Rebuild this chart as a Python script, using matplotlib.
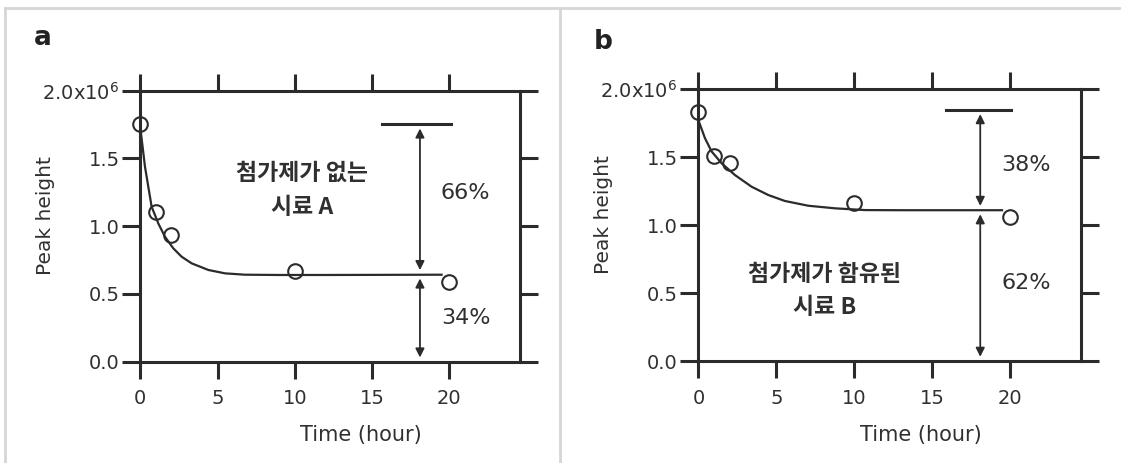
import matplotlib
matplotlib.use('Agg')
import matplotlib.pyplot as plt
from matplotlib.lines import Line2D

plt.rcParams['font.family'] = ['DejaVu Sans', 'Noto Sans CJK KR']

INK = '#2b2b2b'
TXT = '#303030'
KR = ['Noto Sans CJK KR', 'DejaVu Sans']

# measured points (peak height, x10^6)
time_pts = [0, 1, 2, 10, 20]
peak_a = [1.752, 1.107, 0.935, 0.672, 0.590]
peak_b = [1.830, 1.509, 1.455, 1.161, 1.058]

# fitted curves
curve_t_a = [0.04, 0.30, 0.73, 1.16, 1.59, 2.13, 2.67, 3.32, 4.40, 5.48, 6.77, 9.0, 12.0, 16.0, 19.5]
curve_a = [1.686, 1.439, 1.144, 1.021, 0.923, 0.837, 0.775, 0.726, 0.677, 0.652, 0.642, 0.640, 0.640, 0.641, 0.642]
curve_t_b = [0.03, 0.42, 0.85, 1.49, 2.34, 3.41, 4.48, 5.55, 7.05, 8.76, 10.7, 13.0, 16.0, 19.5]
curve_b = [1.761, 1.639, 1.541, 1.455, 1.369, 1.283, 1.222, 1.178, 1.143, 1.124, 1.111, 1.110, 1.110, 1.110]

# plateau / start levels and the percentages
plateau_a, start_a = 0.645, 1.752
plateau_b, start_b = 1.111, 1.848
pct_a = ['66%', '34%']
pct_b = ['38%', '62%']
note_a = '첨가제가 없는\n시료 A'
note_b = '첨가제가 함유된\n시료 B'

xticks = [0, 5, 10, 15, 20]
yticks = [0, 0.5, 1.0, 1.5, 2.0]
ylabels = ['0.0', '0.5', '1.0', '1.5', r'2.0x10$^{6}$']

fig = plt.figure(figsize=(11.21, 4.63), dpi=100)

# light grey frame of the two panels
W, H = 1121, 463
for xs, ys in [([5, W], [8, 8]), ([5, 5], [8, H]), ([560, 560], [8, H])]:
    fig.add_artist(Line2D([x / W for x in xs], [1 - y / H for y in ys],
                          transform=fig.transFigure, color='#d6d6d6', lw=2))


def panel(rect, t_c, y_c, y_p, plateau, start, bar_x, pcts, pct_y, note, note_xy):
    ax = fig.add_axes(rect)
    ax.set_xlim(0, 24.55)
    ax.set_ylim(0, 2.0)
    for s in ax.spines.values():
        s.set_linewidth(2.2)
        s.set_color(INK)
    ax.set_xticks(xticks)
    ax.set_yticks(yticks)
    ax.set_yticklabels(ylabels)
    ax.tick_params(axis='x', direction='out', length=12, width=2.2, color=INK,
                   top=True, labelsize=14, labelcolor=TXT, pad=8)
    ax.tick_params(axis='y', direction='out', length=13, width=2.2, color=INK,
                   right=True, labelsize=14, labelcolor=TXT, pad=2)

    ax.plot(t_c, y_c, color=INK, lw=1.6, clip_on=False)
    ax.plot(time_pts, y_p, 'o', mfc='none', mec=INK, ms=10.5, mew=1.5, clip_on=False)

    # bar and double arrows
    ax.plot(bar_x, [start, start], color=INK, lw=2.2)
    ap = dict(arrowstyle='<|-|>', lw=1.3, color=INK, mutation_scale=13,
              shrinkA=3, shrinkB=3)
    ax.annotate('', xy=(18.1, plateau), xytext=(18.1, start), arrowprops=ap)
    ax.annotate('', xy=(18.1, 0.0), xytext=(18.1, plateau), arrowprops=ap)
    ax.text(21.05, pct_y[0], pcts[0], ha='center', va='center', fontsize=16, color=TXT)
    ax.text(21.05, pct_y[1], pcts[1], ha='center', va='center', fontsize=16, color=TXT)

    ax.text(note_xy[0], note_xy[1], note, ha='center', va='center', fontsize=16.5,
            family=KR, fontweight='bold', color=TXT, linespacing=1.6)

    ax.set_ylabel('Peak height', fontsize=14.5, color=TXT)
    ax.yaxis.set_label_coords(-0.225, 0.54)
    ax.set_xlabel('Time (hour)', fontsize=15, color=TXT)
    ax.xaxis.set_label_coords(0.581, -0.235)
    return ax


panel([0.1252, 0.2188, 0.3383, 0.5853], curve_t_a, curve_a, peak_a,
      plateau_a, start_a, [15.65, 20.1], pct_a, [1.243, 0.32],
      note_a, (10.45, 1.266))
panel([0.6231, 0.2203, 0.3409, 0.5868], curve_t_b, curve_b, peak_b,
      plateau_b, start_b, [15.9, 20.1], pct_b, [1.444, 0.572],
      note_b, (8.1, 0.516))

fig.text(34 / W, 1 - 45 / H, 'a', fontsize=19, fontweight='bold', color='#222222', va='baseline')
fig.text(594 / W, 1 - 49 / H, 'b', fontsize=19, fontweight='bold', color='#222222', va='baseline')

fig.savefig('out.png', dpi=100)
